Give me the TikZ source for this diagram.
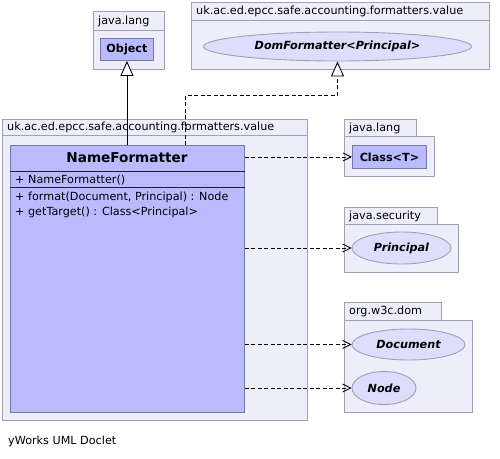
\documentclass[tikz,border=0pt]{standalone}
\usepackage{fontspec}
\setmainfont{DejaVu Sans}
\usetikzlibrary{arrows.meta,shapes.geometric}
\definecolor{pkgfill}{RGB}{238,238,251}
\definecolor{pkgline}{RGB}{160,160,182}
\definecolor{clsfill}{RGB}{186,186,255}
\definecolor{clsline}{RGB}{120,120,165}
\definecolor{ellfill}{RGB}{221,221,252}
\definecolor{divline}{RGB}{30,30,50}
\newcommand\umlfont{\fontsize{11.2}{13}\selectfont}
\newcommand\umltitlefont{\fontsize{13.6}{16}\selectfont\bfseries}
\begin{document}
\begin{tikzpicture}[x=1pt,y=-1pt,
  pkgbody/.style={draw=pkgline,fill=pkgfill,line width=0.9pt,rectangle,anchor=north west,inner sep=0pt},
  pkgtab/.style={pkgbody,label={[pkglabel]west:#1}},
  pkglabel/.style={anchor=west,xshift=5pt,inner sep=0pt,font=\umlfont},
  classbox/.style={draw=clsline,fill=clsfill,line width=0.9pt,rectangle,anchor=north west,inner sep=0pt,font=\umlfont\bfseries},
  iface/.style={draw=pkgline,fill=ellfill,line width=0.9pt,ellipse,inner sep=0pt,font=\umlfont\bfseries\itshape},
  member/.style={anchor=west,inner sep=0pt,font=\umlfont},
  inherit/.style={draw=black,line width=0.9pt,-{Triangle[length=15pt,width=13pt,fill=white]}},
  realize/.style={inherit,dash pattern=on 4pt off 2.5pt},
  dep/.style={draw=black,line width=0.9pt,dash pattern=on 4pt off 2.5pt,-{Straight Barb[length=8pt,width=8pt]}},
  divider/.style={draw=divline,line width=0.9pt}
]
\useasboundingbox (0,0) rectangle (500,458);

% java.lang (Object)
\node[pkgbody,minimum width=71pt,minimum height=58pt] (pjl1) at (93,11) {};
\node[pkgtab=java.lang,minimum width=71pt,minimum height=19pt] (pjl1t) at (93,11) {};
\node[classbox,minimum width=53pt,minimum height=22pt] (obj) at (100,38) {Object};

% uk.ac.ed.epcc.safe.accounting.formatters.value (DomFormatter)
\node[pkgbody,minimum width=298pt,minimum height=67pt] (pdf) at (191,2) {};
\node[pkgtab=uk.ac.ed.epcc.safe.accounting.formatters.value,minimum width=298pt,minimum height=18pt] (pdft) at (191,2) {};
\node[iface,minimum width=268pt,minimum height=29pt] (df) at (337.5,46.5) {DomFormatter<Principal>};

% uk.ac.ed.epcc.safe.accounting.formatters.value (NameFormatter)
\node[pkgbody,minimum width=305pt,minimum height=301pt] (pnf) at (2,119) {};
\node[pkgtab=uk.ac.ed.epcc.safe.accounting.formatters.value,minimum width=305pt,minimum height=16pt] (pnft) at (2,119) {};
\node[classbox,minimum width=234pt,minimum height=267pt] (nf) at (10,145) {};
\node[inner sep=0pt,font=\umltitlefont] (nftitle) at (127,158) {NameFormatter};
\draw[divider] (nf.west |- 0,171) -- (nf.east |- 0,171);
\draw[divider] (nf.west |- 0,187) -- (nf.east |- 0,187);
\node[member] (m1) at (15,180) {+ NameFormatter()};
\node[member] (m2) at (15,197.5) {+ format(Document, Principal) : Node};
\node[member] (m3) at (15,212.5) {+ getTarget() : Class<Principal>};

% java.lang (Class<T>)
\node[pkgtab=java.lang,minimum width=72pt,minimum height=17pt] (pjl2t) at (344,119) {};
\node[pkgbody,minimum width=90pt,minimum height=40pt] (pjl2) at (344,136) {};
\node[classbox,minimum width=74pt,minimum height=23pt] (cls) at (352,145) {Class<T>};

% java.security
\node[pkgtab=java.security,minimum width=93pt,minimum height=17pt] (pjst) at (344,207) {};
\node[pkgbody,minimum width=114pt,minimum height=48pt] (pjs) at (344,224) {};
\node[iface,minimum width=99pt,minimum height=32pt] (pr) at (401.5,248) {Principal};

% org.w3c.dom
\node[pkgtab=org.w3c.dom,minimum width=97pt,minimum height=18pt] (pdomt) at (344,302) {};
\node[pkgbody,minimum width=128pt,minimum height=92pt] (pdom) at (344,320) {};
\node[iface,minimum width=113pt,minimum height=31pt] (doc) at (408.5,344.5) {Document};
\node[iface,minimum width=64pt,minimum height=33pt] (nd) at (384,388) {Node};

% connectors
\draw[inherit] (nf.north -| obj.south) -- (obj.south);
\coordinate (nfr) at (185.5,145);
\coordinate (bend) at (337.5,95);
\draw[realize] (nfr) |- (bend) -- (df.south);
\draw[dep] (nf.east |- cls.west) -- (cls.west);
\draw[dep] (nf.east |- pr.west) -- (pr.west);
\draw[dep] (nf.east |- doc.west) -- (doc.west);
\draw[dep] (nf.east |- nd.west) -- (nd.west);

\node[anchor=west,inner sep=0pt,font=\umlfont] (credit) at (8,441) {yWorks UML Doclet};
\end{tikzpicture}
\end{document}
